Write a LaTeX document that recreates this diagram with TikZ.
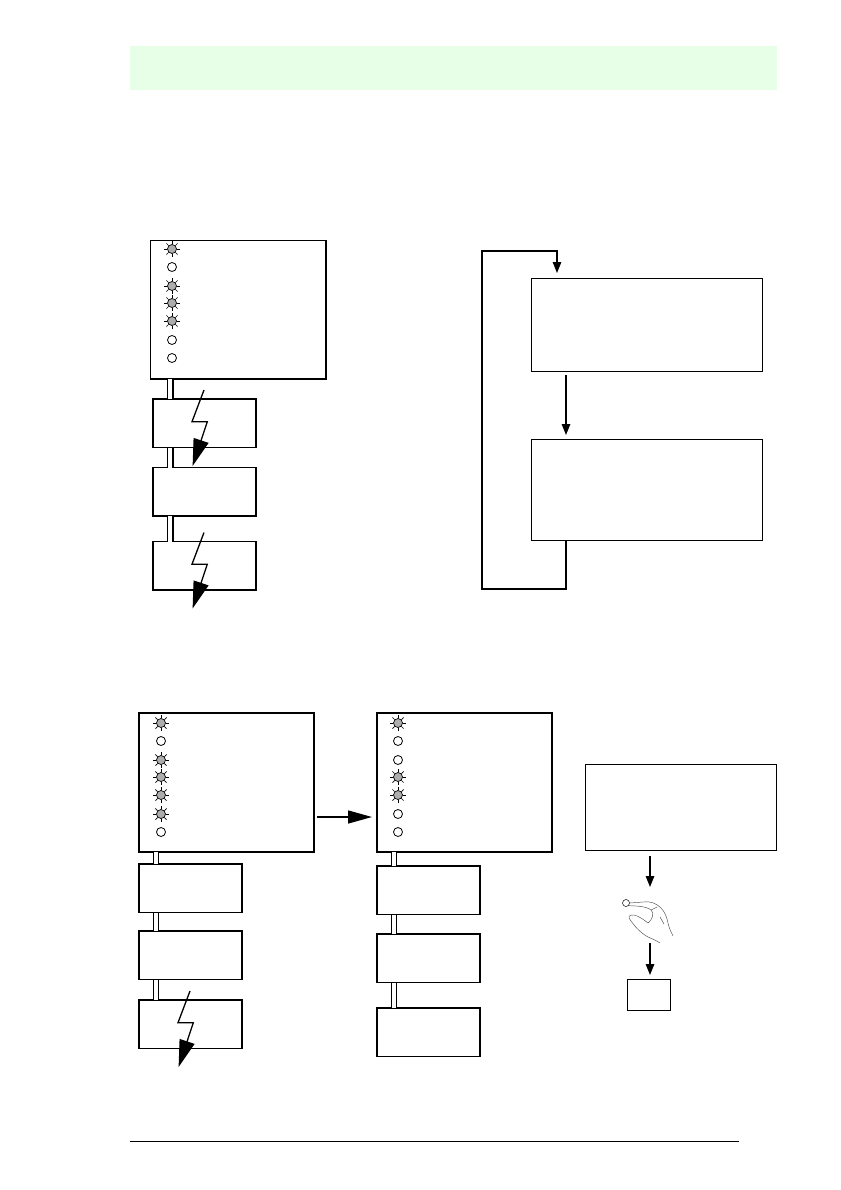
\documentclass[tikz,border=0pt]{standalone}
\usepackage{tikz}
\usetikzlibrary{positioning,arrows.meta,calc}

\definecolor{bandgreen}{RGB}{230,255,230}

\begin{document}
\begin{tikzpicture}[
  x=1pt, y=-1pt,
  panel/.style={rectangle, draw=black, fill=white, line width=1.3pt, inner sep=0pt,
                outer sep=0pt, minimum width=175pt, minimum height=139pt},
  unit/.style={rectangle, draw=black, fill=white, line width=1.3pt, inner sep=0pt,
               outer sep=0pt, minimum width=103pt, minimum height=48.5pt},
  note/.style={rectangle, draw=black, fill=white, line width=0.8pt, inner sep=0pt,
               outer sep=0pt},
  rail/.style={double=white, double distance=4pt, line width=1.3pt, black},
  arr/.style={-{Triangle[length=11pt,width=8.5pt]}, line width=1.4pt, black},
  bigarr/.style={-{Triangle[length=24pt,width=13pt]}, line width=1.4pt, black},
  ledoff/.style={circle, draw=black, fill=white, line width=0.8pt, inner sep=0pt,
                 minimum size=9pt},
  ledon/.style={circle, draw=black, fill=black!32, line width=0.7pt, inner sep=0pt,
                minimum size=9pt},
  ray/.style={line width=0.7pt, black},
  handline/.style={line width=0.45pt, black!70, line cap=round, line join=round},
  bolt/.pic={
    \draw[line width=1.3pt, -{Triangle[length=27pt,width=15.5pt]}]
      (51,-9) -- (39,22.7) -- (54.3,22.7) -- (39.6,67);
  },
]
\useasboundingbox (0,0) rectangle (840,1190);

% Page band and foot rule
\fill[bandgreen] (130,46) rectangle (777,90);
\draw[line width=0.8pt] (130,1141) -- (739,1141);

% Top left stack
\node[panel, line width=0.8pt, minimum width=176pt, anchor=north west] (topPanel) at (150,240) {};
\draw[line width=1.6pt] (topPanel.north east) |- (topPanel.south west);
\node[unit, below right=20pt and 3pt of topPanel.south west] (topA) {};
\node[unit, below=20pt of topA] (topB) {};
\node[unit, below=25.5pt of topB] (topC) {};
\draw[rail] ([xshift=20.3pt]topPanel.south west) -- ([xshift=17.3pt]topA.north west);
\draw[rail] ([xshift=17.3pt]topA.south west) -- ([xshift=17.3pt]topB.north west);
\draw[rail] ([xshift=17.3pt]topB.south west) -- ([xshift=17.3pt]topC.north west);
\pic at (topA.north west) {bolt};
\pic at (topC.north west) {bolt};

% Top right loop
\node[note, minimum width=231pt, minimum height=93pt, anchor=north west] (stepA) at (531,278) {};
\node[note, minimum width=231pt, minimum height=101pt, below=68pt of stepA] (stepB) {};
\coordinate (loopL) at (482,589);
\coordinate (loopT) at (482,251);
\draw[arr] ([xshift=35pt,yshift=-4pt]stepA.south west) -- ([xshift=35pt,yshift=4pt]stepB.north west);
\draw[arr, line width=1.1pt] ([xshift=35pt]stepB.south west) |- (loopL) -- (loopT)
  -| ([xshift=26pt,yshift=5pt]stepA.north west);

% Bottom left stack
\node[panel, line width=1.8pt, anchor=north west] (lowPanel) at (139,713) {};
\node[unit, below right=12pt and 0pt of lowPanel.south west] (lowA) {};
\node[unit, below=18.5pt of lowA] (lowB) {};
\node[unit, below=20.5pt of lowB] (lowC) {};
\draw[rail] ([xshift=17pt]lowPanel.south west) -- ([xshift=17pt]lowA.north west);
\draw[rail] ([xshift=17pt]lowA.south west) -- ([xshift=17pt]lowB.north west);
\draw[rail] ([xshift=17pt]lowB.south west) -- ([xshift=17pt]lowC.north west);
\pic at (lowC.north west) {bolt};

% Bottom middle stack
\node[panel, anchor=north west] (midPanel) at (377,713) {};
\node[unit, below right=14pt and 0pt of midPanel.south west] (midA) {};
\node[unit, below=19.5pt of midA] (midB) {};
\node[unit, below=25.5pt of midB] (midC) {};
\draw[rail] ([xshift=17pt]midPanel.south west) -- ([xshift=17pt]midA.north west);
\draw[rail] ([xshift=17pt]midA.south west) -- ([xshift=17pt]midB.north west);
\draw[rail] ([xshift=17pt]midB.south west) -- ([xshift=17pt]midC.north west);
\draw[bigarr] ([xshift=3pt,yshift=35pt]lowPanel.south east) -- ([xshift=-5pt,yshift=35pt]midPanel.south west);

% Bottom right steps
\node[note, minimum width=191pt, minimum height=86pt, anchor=north west] (pressBox) at (585,764) {};
\node[ledoff, minimum size=7pt, line width=0.5pt] (keyDot) at (626,903) {};
\coordinate (handTop) at (650,887);
\coordinate (handLow) at (650,943);
\node[note, minimum width=43pt, minimum height=31.5pt, anchor=north west] (resultBox) at (627,979) {};
\draw[arr] ([yshift=-6pt]handTop |- pressBox.south) -- (handTop);
\draw[arr] (handLow) -- ([yshift=4pt]handLow |- resultBox.north);

% Hand
\draw[handline] (keyDot.east) -- (643,902) .. controls (650,901) and (656,903) .. (661,908)
  .. controls (665,912) and (667,918) .. (668,923) .. controls (669,928) and (671,932) .. (673,936);
\draw[handline] (keyDot.south east) .. controls (636,906) and (646,906) .. (651,910)
  .. controls (655,913) and (652,920) .. (648,923);
\draw[handline] (648,923) .. controls (644,920) and (639,916) .. (634,915)
  .. controls (628,914) and (628,918) .. (631,921)
  .. controls (636,928) and (641,933) .. (648,937) .. controls (653,939) and (657,941) .. (660,943);
\draw[handline] (651,910) -- (657,907);
\draw[handline] (660,917) -- (664,924);

% Status lamps
\foreach \x/\y/\kind in {172/249/on, 172/267/off, 172/286/on, 172/303/on, 172/321/on, 172/340/off, 172/358/off,
    161/723/on, 161/741/off, 161/760/on, 161/777/on, 161/795/on, 161/814/on, 161/832/off,
    398/723/on, 398/741/off, 398/760/off, 398/777/on, 398/795/on, 398/814/off, 398/832/off}{
  \node[led\kind] (lamp\x-\y) at (\x,\y) {};
}
\foreach \x/\y in {172/249, 172/286, 172/303, 172/321, 161/723, 161/760, 161/777, 161/795, 161/814, 398/723, 398/777, 398/795}{
  \foreach \a in {0,45,...,315}
    \draw[ray] (lamp\x-\y.\a) -- ++(\a:3pt);
}

\end{tikzpicture}
\end{document}
